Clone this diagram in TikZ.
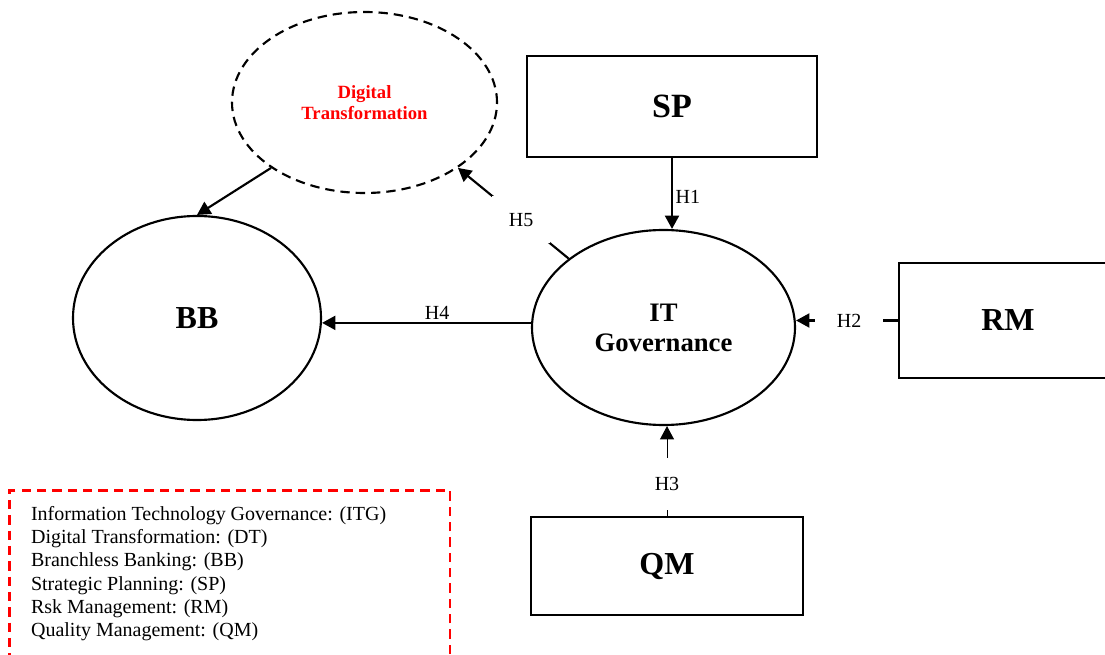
\documentclass[tikz,border=0pt]{standalone}
\usepackage{fontspec}
\setmainfont{Liberation Serif}
\usetikzlibrary{arrows.meta,shapes.geometric}

\begin{document}
\begin{tikzpicture}[x=0.75pt,y=-0.75pt,
    >={Triangle[length=10pt,width=10.5pt]},
    every path/.style={line width=1.6pt},
    construct/.style={draw,ellipse,inner sep=0pt,font=\fontsize{24}{26}\selectfont\bfseries,align=center},
    factor/.style={draw,rectangle,inner sep=0pt,font=\fontsize{24}{26}\selectfont\bfseries},
    hyp/.style={font=\fontsize{15}{17}\selectfont,inner sep=2pt},
    gap/.style={hyp,fill=white}]
  \useasboundingbox (0,0) rectangle (1105,655);
  % constructs
  \node[construct,dash pattern=on 7pt off 4.5pt,minimum width=198.75pt,minimum height=135.75pt,text=red,
        font=\fontsize{14}{15.5}\selectfont\bfseries] (DT) at (364.5,102.5) {Digital\\Transformation};
  \node[construct,minimum width=186pt,minimum height=153pt] (BB) at (197,318) {BB};
  \node[construct,minimum width=197.25pt,minimum height=146.25pt,
        font=\fontsize{20}{22.5}\selectfont\bfseries] (ITG) at (663.5,327.5) {IT\\Governance};
  % factors
  \node[factor,minimum width=217.5pt,minimum height=75.75pt,
        font=\fontsize{25.5}{28}\selectfont\bfseries] (SP) at (672,106.5) {SP};
  \node[factor,minimum width=163.5pt,minimum height=86.25pt] (RM) at (1008,320.5) {RM};
  \node[factor,minimum width=204pt,minimum height=73.5pt] (QM) at (667,566) {QM};
  % hypotheses
  \draw[->] (SP.south) -- node[hyp,right,pos=0.55] (h1) {H1} (SP.south |- ITG.north);
  \draw[->] (RM.west) -- node[gap,inner xsep=16.5pt,pos=0.48] (h2) {H2} (RM.west -| ITG.east);
  \draw[->,line width=0.75pt] (QM.north) -- node[gap,inner ysep=14.5pt,pos=0.36] (h3) {H3} (QM.north |- ITG.south);
  \draw[->] (ITG.178) -- node[hyp,above,pos=0.45] (h4) {H4} (ITG.178 -| BB.east);
  \draw[->] (ITG.144) -- node[gap,inner sep=12.5pt,pos=0.43] (h5) {H5} (DT.325);
  \draw[->] (DT.215) -- (BB.north);
  % legend
  \draw[red,dashed,line width=2pt,dash pattern=on 7pt off 4.5pt] (450,700) |- (9.5,490.5) -- (9.5,700);
  \node[anchor=north west,inner sep=0pt,align=left,
        font=\fontsize{15}{17.5}\selectfont] (legend) at (30,505)
    {Information Technology Governance: (ITG)\\
     Digital Transformation: (DT)\\
     Branchless Banking: (BB)\\
     Strategic Planning: (SP)\\
     Rsk Management: (RM)\\
     Quality Management: (QM)};
\end{tikzpicture}
\end{document}
